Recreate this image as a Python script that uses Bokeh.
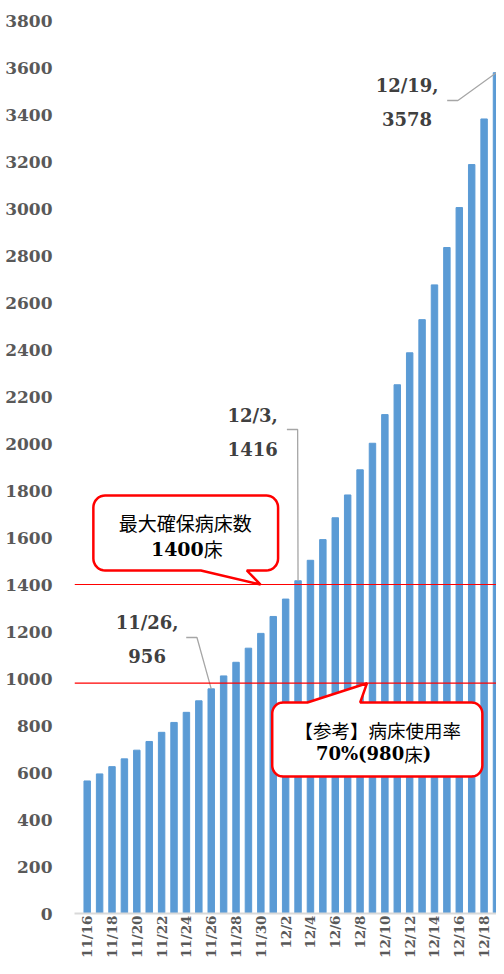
import math
import numpy as np
from bokeh.plotting import figure
from bokeh.models import FixedTicker, Span, Label
from bokeh.embed import file_html
from bokeh.resources import INLINE

# ---------------- data ----------------
dates = ["11/16", "11/17", "11/18", "11/19", "11/20", "11/21", "11/22", "11/23",
         "11/24", "11/25", "11/26", "11/27", "11/28", "11/29", "11/30", "12/1",
         "12/2", "12/3", "12/4", "12/5", "12/6", "12/7", "12/8", "12/9",
         "12/10", "12/11", "12/12", "12/13", "12/14", "12/15", "12/16", "12/17",
         "12/18", "12/19"]
beds = [564, 594, 625, 658, 695, 732, 771, 813,
        856, 905, 956, 1011, 1069, 1129, 1192, 1264,
        1338, 1416, 1503, 1591, 1684, 1781, 1888, 2001,
        2123, 2250, 2386, 2527, 2675, 2834, 3004, 3187,
        3381, 3578]
y_ticks = list(range(0, 3801, 200))
x_tick_every = 2
capacity_max = 1400          # 最大確保病床数
capacity_70 = 980            # 病床使用率70%
callout1_line1 = "最大確保病床数"
callout2_line1 = "【参考】病床使用率"
highlight = ["11/26", "12/3", "12/19"]

# ---------------- layout ----------------
W, H = 496, 966
LEFT, RIGHT, TOP, BOTTOM = 74, 0, 20, 53
X0, X1 = -1.024, 33.0
Y0, Y1 = 0, 3800

# positions of annotations are given in reference-pixel units and mapped to data
def dx(px):
    return (px - 86.7) / 12.69

def dy(py):
    return (913 - py) * (Y1 - Y0) / 893

def py_of(v):
    return 913 - v * 893 / (Y1 - Y0)

p = figure(width=W, height=H, x_range=(X0, X1), y_range=(Y0, Y1),
           output_backend="svg", toolbar_location=None,
           min_border_left=LEFT, min_border_right=RIGHT,
           min_border_top=TOP, min_border_bottom=BOTTOM)
p.outline_line_color = None
p.background_fill_color = "white"
p.xgrid.visible = False
p.ygrid.visible = False

idx = list(range(len(dates)))
p.vbar(x=idx, top=beds, width=0.52, color="#5B9BD5")

# axes
xa = p.xaxis[0]
xa.ticker = FixedTicker(ticks=idx[::x_tick_every])
xa.major_label_overrides = {i: dates[i] for i in idx[::x_tick_every]}
xa.major_label_orientation = math.pi / 2
xa.axis_line_color = "#D9D9D9"
xa.axis_line_width = 2
xa.major_tick_line_color = None
xa.minor_tick_line_color = None
xa.major_tick_out = 0
xa.major_tick_in = 0
xa.major_label_standoff = 2
xa.major_label_text_font = "DejaVu Serif"
xa.major_label_text_font_style = "bold"
xa.major_label_text_font_size = "13.5px"
xa.major_label_text_color = "#595959"

ya = p.yaxis[0]
ya.ticker = FixedTicker(ticks=y_ticks)
ya.axis_line_color = None
ya.major_tick_line_color = None
ya.minor_tick_line_color = None
ya.major_tick_out = 0
ya.major_tick_in = 0
ya.major_label_standoff = 22
ya.major_label_text_font = "DejaVu Serif"
ya.major_label_text_font_style = "bold"
ya.major_label_text_font_size = "17px"
ya.major_label_text_color = "#595959"

# reference lines
for v in (capacity_max, capacity_70):
    p.add_layout(Span(location=v, dimension="width", line_color="#FF0000", line_width=1.2))

# leader lines + data labels
ann_font = dict(text_font="DejaVu Serif", text_font_style="bold", text_font_size="18px",
                text_color="#404040", text_align="center", text_baseline="middle")
# (text center x, line1 y, line2 y, elbow start x, elbow end x, elbow y) in reference pixels
ann_pos = {
    "11/26": (148, 622, 655, 188, 199, 637),
    "12/3": (256, 415, 448, 291, 302, 429),
    "12/19": (414, 85, 118, 455, 466, 100),
}
for d in highlight:
    i = dates.index(d)
    tx, ty1, ty2, ex0, ex1, ey = ann_pos[d]
    p.line([dx(ex0), dx(ex1), i], [dy(ey), dy(ey), beds[i]], line_color="#A6A6A6", line_width=1.3)
    p.add_layout(Label(x=dx(tx), y=dy(ty1), text=f"{d},", **ann_font))
    p.add_layout(Label(x=dx(tx), y=dy(ty2), text=f"{beds[i]}", **ann_font))

# callouts
def callout(x0, y0, x1, y1, r, side, a, b, tip_x, tip_y):
    xs, ys = [], []
    def arc(cx, cy, t0, t1):
        for t in np.linspace(t0, t1, 10):
            xs.append(cx + r * math.cos(t)); ys.append(cy + r * math.sin(t))
    arc(x0 + r, y0 + r, math.pi, 1.5 * math.pi)
    if side == "top":
        xs += [a, tip_x, b]; ys += [y0, tip_y, y0]
    arc(x1 - r, y0 + r, -0.5 * math.pi, 0)
    arc(x1 - r, y1 - r, 0, 0.5 * math.pi)
    if side == "bottom":
        xs += [b, tip_x, a]; ys += [y1, tip_y, y1]
    arc(x0 + r, y1 - r, 0.5 * math.pi, math.pi)
    return [dx(x) for x in xs], [dy(y) for y in ys]

cx, cy = callout(93, 495, 282, 570, 12, "bottom", 203, 250, 264, py_of(capacity_max))
p.patch(cx, cy, fill_color="white", line_color="#FF0000", line_width=2.5)
cx, cy = callout(276, 702, 491, 776, 11, "top", 312, 366, 373, py_of(capacity_70))
p.patch(cx, cy, fill_color="white", line_color="#FF0000", line_width=2.5)

cjk = dict(text_font="Noto Sans CJK JP", text_color="#000000", text_baseline="middle")
ser = dict(text_font="DejaVu Serif", text_font_style="bold", text_color="#000000", text_baseline="middle")

p.add_layout(Label(x=dx(187), y=dy(522), text=callout1_line1, text_align="center",
                   text_font_size="19px", **cjk))
p.add_layout(Label(x=dx(206), y=dy(548), text=f"{capacity_max}", text_align="right",
                   text_font_size="19px", **ser))
p.add_layout(Label(x=dx(206), y=dy(548), text="床", text_align="left",
                   text_font_size="19px", **cjk))

p.add_layout(Label(x=dx(384), y=dy(729), text=callout2_line1, text_align="center",
                   text_font_size="18.5px", **cjk))
p.add_layout(Label(x=dx(411), y=dy(753), text=f"70%({capacity_70}", text_align="right",
                   text_font_size="18px", **ser))
p.add_layout(Label(x=dx(411), y=dy(753), text="床", text_align="left",
                   text_font_size="18.5px", **cjk))
p.add_layout(Label(x=dx(430), y=dy(753), text=")", text_align="left",
                   text_font_size="18px", **ser))

open("out.html", "w").write(file_html(p, INLINE))
